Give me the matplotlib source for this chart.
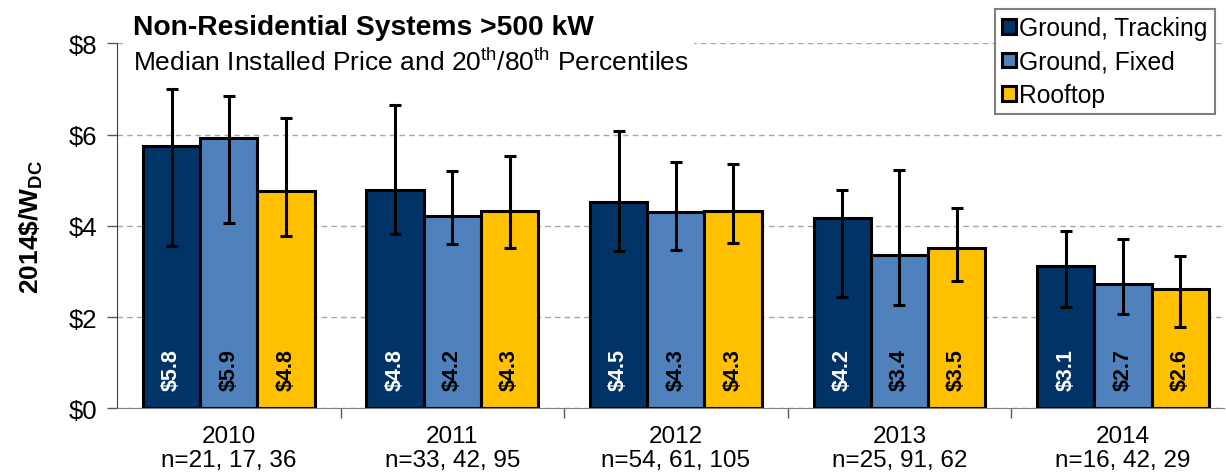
import numpy as np
import matplotlib
matplotlib.use('Agg')
import matplotlib.pyplot as plt

plt.rcParams['font.family'] = ['Liberation Sans', 'DejaVu Sans']
plt.rcParams['mathtext.fontset'] = 'custom'
plt.rcParams['mathtext.rm'] = 'Liberation Sans'
plt.rcParams['mathtext.bf'] = 'Liberation Sans:bold'

years = ['2010', '2011', '2012', '2013', '2014']
counts = ['n=21, 17, 36', 'n=33, 42, 95', 'n=54, 61, 105', 'n=25, 91, 62', 'n=16, 42, 29']
series = ['Ground, Tracking', 'Ground, Fixed', 'Rooftop']
colors = ['#003366', '#4F81BD', '#FFC000']
label_colors = ['white', 'black', 'black']

# medians, 20th and 80th percentiles (2014$/W)
median = {
    'Ground, Tracking': [5.76, 4.79, 4.53, 4.17, 3.12],
    'Ground, Fixed':    [5.93, 4.22, 4.30, 3.37, 2.72],
    'Rooftop':          [4.77, 4.33, 4.32, 3.52, 2.62],
}
p20 = {
    'Ground, Tracking': [3.56, 3.83, 3.45, 2.43, 2.21],
    'Ground, Fixed':    [4.06, 3.60, 3.47, 2.27, 2.07],
    'Rooftop':          [3.78, 3.52, 3.63, 2.80, 1.79],
}
p80 = {
    'Ground, Tracking': [7.00, 6.64, 6.08, 4.79, 3.89],
    'Ground, Fixed':    [6.85, 5.21, 5.39, 5.23, 3.71],
    'Rooftop':          [6.37, 5.53, 5.36, 4.39, 3.33],
}

fig = plt.figure(figsize=(12.26, 4.77), dpi=100)
ax = fig.add_axes([0.0954, 0.142, 0.9026, 0.765])

x = np.arange(len(years))
w = 0.256
for i, s in enumerate(series):
    pos = x + (i - 1) * w
    med = np.array(median[s])
    lo = med - np.array(p20[s])
    hi = np.array(p80[s]) - med
    ax.bar(pos, med, width=w, color=colors[i], edgecolor='black', linewidth=2.2,
           label=s, zorder=2)
    ax.errorbar(pos, med, yerr=[lo, hi], fmt='none', ecolor='black', elinewidth=2.2,
                capsize=4.5, capthick=2.2, zorder=3)
    for p, m in zip(pos, med):
        ax.text(p, 0.85, f'${m:.1f}', rotation=90, ha='center', va='center',
                fontsize=15.5, fontweight='bold', color=label_colors[i], zorder=4)

ax.set_xlim(-0.5, 4.45)
ax.set_ylim(0, 8)
ax.set_yticks([0, 2, 4, 6, 8])
ax.set_yticklabels(['$0', '$2', '$4', '$6', '$8'], fontsize=18.5)
ax.yaxis.grid(True, linestyle=(0, (4, 3)), color='#A6A6A6', linewidth=1)
ax.set_axisbelow(True)

ax.set_xticks(x)
ax.set_xticklabels([f'{y}\n{n}' for y, n in zip(years, counts)], fontsize=17.5,
                   linespacing=1.12)
ax.tick_params(axis='x', length=0, pad=12)
ax.set_xticks(np.arange(0.5, 4.5, 1), minor=True)
ax.tick_params(axis='x', which='minor', length=7, color='#595959', width=1)
ax.tick_params(axis='y', length=7, width=1, color='#595959', pad=7)

for sp in ['top', 'right']:
    ax.spines[sp].set_visible(False)
ax.spines['left'].set_color('#404040')
ax.spines['bottom'].set_color('#808080')

ax.set_ylabel(r'$\mathbf{2014\$/W_{DC}}$', fontsize=19, labelpad=17)

fig.text(0.1085, 0.942, 'Non-Residential Systems >500 kW', fontsize=20.3,
         fontweight='bold', ha='left', va='center',
         bbox=dict(facecolor='white', edgecolor='none', pad=5))
fig.text(0.1085, 0.870, r'Median Installed Price and 20$^{\rm th}$/80$^{\rm th}$ Percentiles',
         fontsize=19, ha='left', va='center',
         bbox=dict(facecolor='white', edgecolor='none', pad=4))

leg = ax.legend(loc='upper right', bbox_to_anchor=(1215 / 1226, 1 - 10 / 477),
                bbox_transform=fig.transFigure, borderaxespad=0, fontsize=17.7,
                handlelength=0.55, handleheight=0.55, handletextpad=0.15,
                labelspacing=0.38, borderpad=0.3, fancybox=False, framealpha=1)
leg.get_frame().set_edgecolor('#808080')
leg.get_frame().set_linewidth(1.5)
for h in leg.legend_handles:
    h.set_linewidth(2.2)

fig.savefig('out.png', dpi=100)
